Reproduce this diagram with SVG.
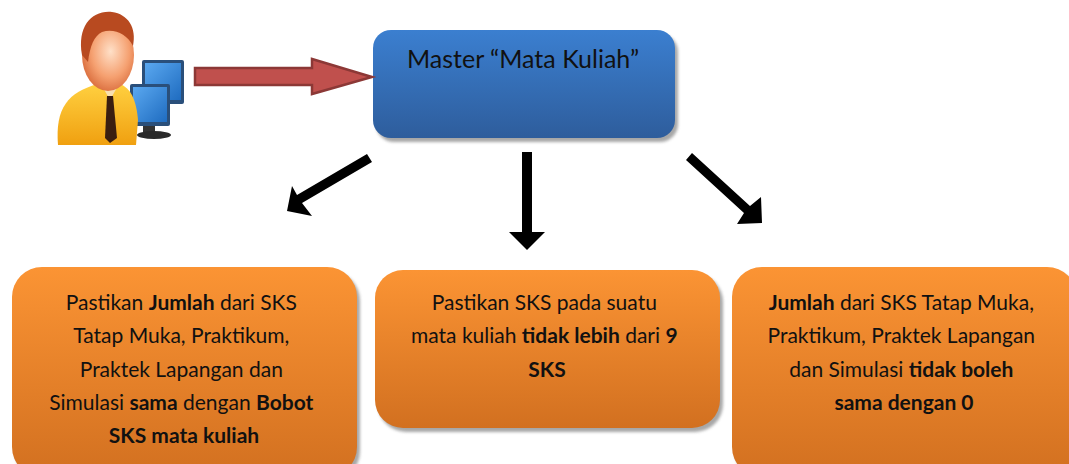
<svg xmlns="http://www.w3.org/2000/svg" width="1069" height="464" viewBox="0 0 1069 464">
  <defs>
    <linearGradient id="blueFill" x1="0" y1="0" x2="0" y2="1">
      <stop offset="0" stop-color="#3b7fd0"/>
      <stop offset="1" stop-color="#2e5d9c"/>
    </linearGradient>
    <linearGradient id="orangeFill" x1="0" y1="0" x2="0" y2="1">
      <stop offset="0" stop-color="#fb9434"/>
      <stop offset="1" stop-color="#d27020"/>
    </linearGradient>
    <radialGradient id="faceFill" cx="0.55" cy="0.45" r="0.6">
      <stop offset="0" stop-color="#ffe0c8"/>
      <stop offset="0.6" stop-color="#f5a070"/>
      <stop offset="1" stop-color="#d86a3a"/>
    </radialGradient>
    <linearGradient id="shirtFill" x1="0" y1="0" x2="0" y2="1">
      <stop offset="0" stop-color="#ffd040"/>
      <stop offset="1" stop-color="#f0a010"/>
    </linearGradient>
    <linearGradient id="screenFill" x1="0" y1="0" x2="1" y2="1">
      <stop offset="0" stop-color="#5aa8f0"/>
      <stop offset="1" stop-color="#1f6cc0"/>
    </linearGradient>
    <filter id="soft" x="-10%" y="-10%" width="120%" height="130%">
      <feGaussianBlur stdDeviation="1.5"/>
    </filter>
  </defs>
  <style>
    .lbl { font-family: Lato, "Open Sans", "Liberation Sans", sans-serif; fill: #111; text-anchor: middle; }
    .small { font-size: 21px; }
    .title { font-size: 25px; }
    .b { font-weight: bold; }
    .shadow { fill: #8a8a8a; opacity: 0.75; }
    .conn { fill: #000; }
  </style>

  <!-- user at a workstation -->
  <g id="user">
    <!-- monitors -->
    <rect x="142" y="60" width="42" height="44" rx="2" fill="#2a4f7a"/>
    <rect x="145" y="63" width="36" height="37" fill="url(#screenFill)"/>
    <rect x="158" y="104" width="10" height="12" fill="#333"/>
    <rect x="130" y="84" width="40" height="42" rx="2" fill="#2a4f7a"/>
    <rect x="133" y="87" width="34" height="35" fill="url(#screenFill)"/>
    <rect x="143" y="126" width="12" height="7" fill="#333"/>
    <ellipse cx="154" cy="135" rx="17" ry="4" fill="#2a2a2a"/>
    <!-- body -->
    <path d="M58,145 C55,108 68,92 98,84 L120,84 C130,88 136,98 138,120 L136,145 Z" fill="url(#shirtFill)"/>
    <path d="M101,84 L110,100 L119,84 Z" fill="#f8e0b0"/>
    <path d="M107,96 L113,96 L117,138 L110,143 L105,138 Z" fill="#3a1e10"/>
    <!-- head -->
    <ellipse cx="108" cy="55" rx="26" ry="36" fill="url(#faceFill)"/>
    <path d="M82,55 C77,26 92,10 112,12 C128,14 137,28 133,46 C127,34 114,28 102,32 C94,36 90,46 88,62 Z" fill="#b84a20"/>
  </g>

  <!-- master node -->
  <g id="master">
    <rect x="376" y="34" width="302" height="108" rx="18" class="shadow" filter="url(#soft)"/>
    <rect x="373" y="30" width="302" height="108" rx="18" fill="url(#blueFill)"/>
    <text x="523" y="68" class="lbl title">Master “Mata Kuliah”</text>
  </g>

  <!-- rule nodes -->
  <g id="rule-jumlah">
    <rect x="15" y="271" width="345" height="210" rx="30" class="shadow" filter="url(#soft)"/>
    <rect x="12" y="267" width="345" height="210" rx="30" fill="url(#orangeFill)"/>
    <text class="lbl small">
      <tspan x="184" y="310">Pastikan <tspan class="b">Jumlah</tspan> dari SKS</tspan>
      <tspan x="184" y="343">Tatap Muka, Praktikum,</tspan>
      <tspan x="184" y="377">Praktek Lapangan dan</tspan>
      <tspan x="184" y="410">Simulasi <tspan class="b">sama</tspan> dengan <tspan class="b">Bobot</tspan></tspan>
      <tspan x="184" y="443" class="b">SKS mata kuliah</tspan>
    </text>
  </g>

  <g id="rule-maks">
    <rect x="378" y="274" width="345" height="158" rx="28" class="shadow" filter="url(#soft)"/>
    <rect x="375" y="270" width="345" height="158" rx="28" fill="url(#orangeFill)"/>
    <text class="lbl small">
      <tspan x="547" y="310">Pastikan SKS pada suatu</tspan>
      <tspan x="547" y="343">mata kuliah <tspan class="b">tidak lebih</tspan> dari <tspan class="b">9</tspan></tspan>
      <tspan x="547" y="377" class="b">SKS</tspan>
    </text>
  </g>

  <g id="rule-nol">
    <rect x="735" y="271" width="345" height="210" rx="30" class="shadow" filter="url(#soft)"/>
    <rect x="732" y="267" width="345" height="210" rx="30" fill="url(#orangeFill)"/>
    <text class="lbl small">
      <tspan x="904" y="310"><tspan class="b">Jumlah</tspan> dari SKS Tatap Muka,</tspan>
      <tspan x="904" y="343">Praktikum, Praktek Lapangan</tspan>
      <tspan x="904" y="377">dan Simulasi <tspan class="b">tidak boleh</tspan></tspan>
      <tspan x="904" y="410" class="b">sama dengan 0</tspan>
    </text>
  </g>

  <!-- connectors -->
  <g id="connectors">
    <!-- user to master: block arrow -->
    <path d="M195,68 L312,68 L312,59 L372,77 L312,94 L312,85 L195,85 Z" fill="#c0504d" stroke="#8c3836" stroke-width="2.5" stroke-linejoin="miter"/>
    <!-- master to left rule -->
    <path class="conn" d="M367,154 L372,162 L302,203 L312,216 L287,211 L292,186 L297,195 Z"/>
    <!-- master to middle rule -->
    <path class="conn" d="M522,152 L532,152 L532,232 L545,232 L527,250 L509,232 L522,232 Z"/>
    <!-- master to right rule -->
    <path class="conn" d="M686,160 L692,153 L750,206 L761,197 L762,223 L737,224 L744,213 Z"/>
  </g>
</svg>
